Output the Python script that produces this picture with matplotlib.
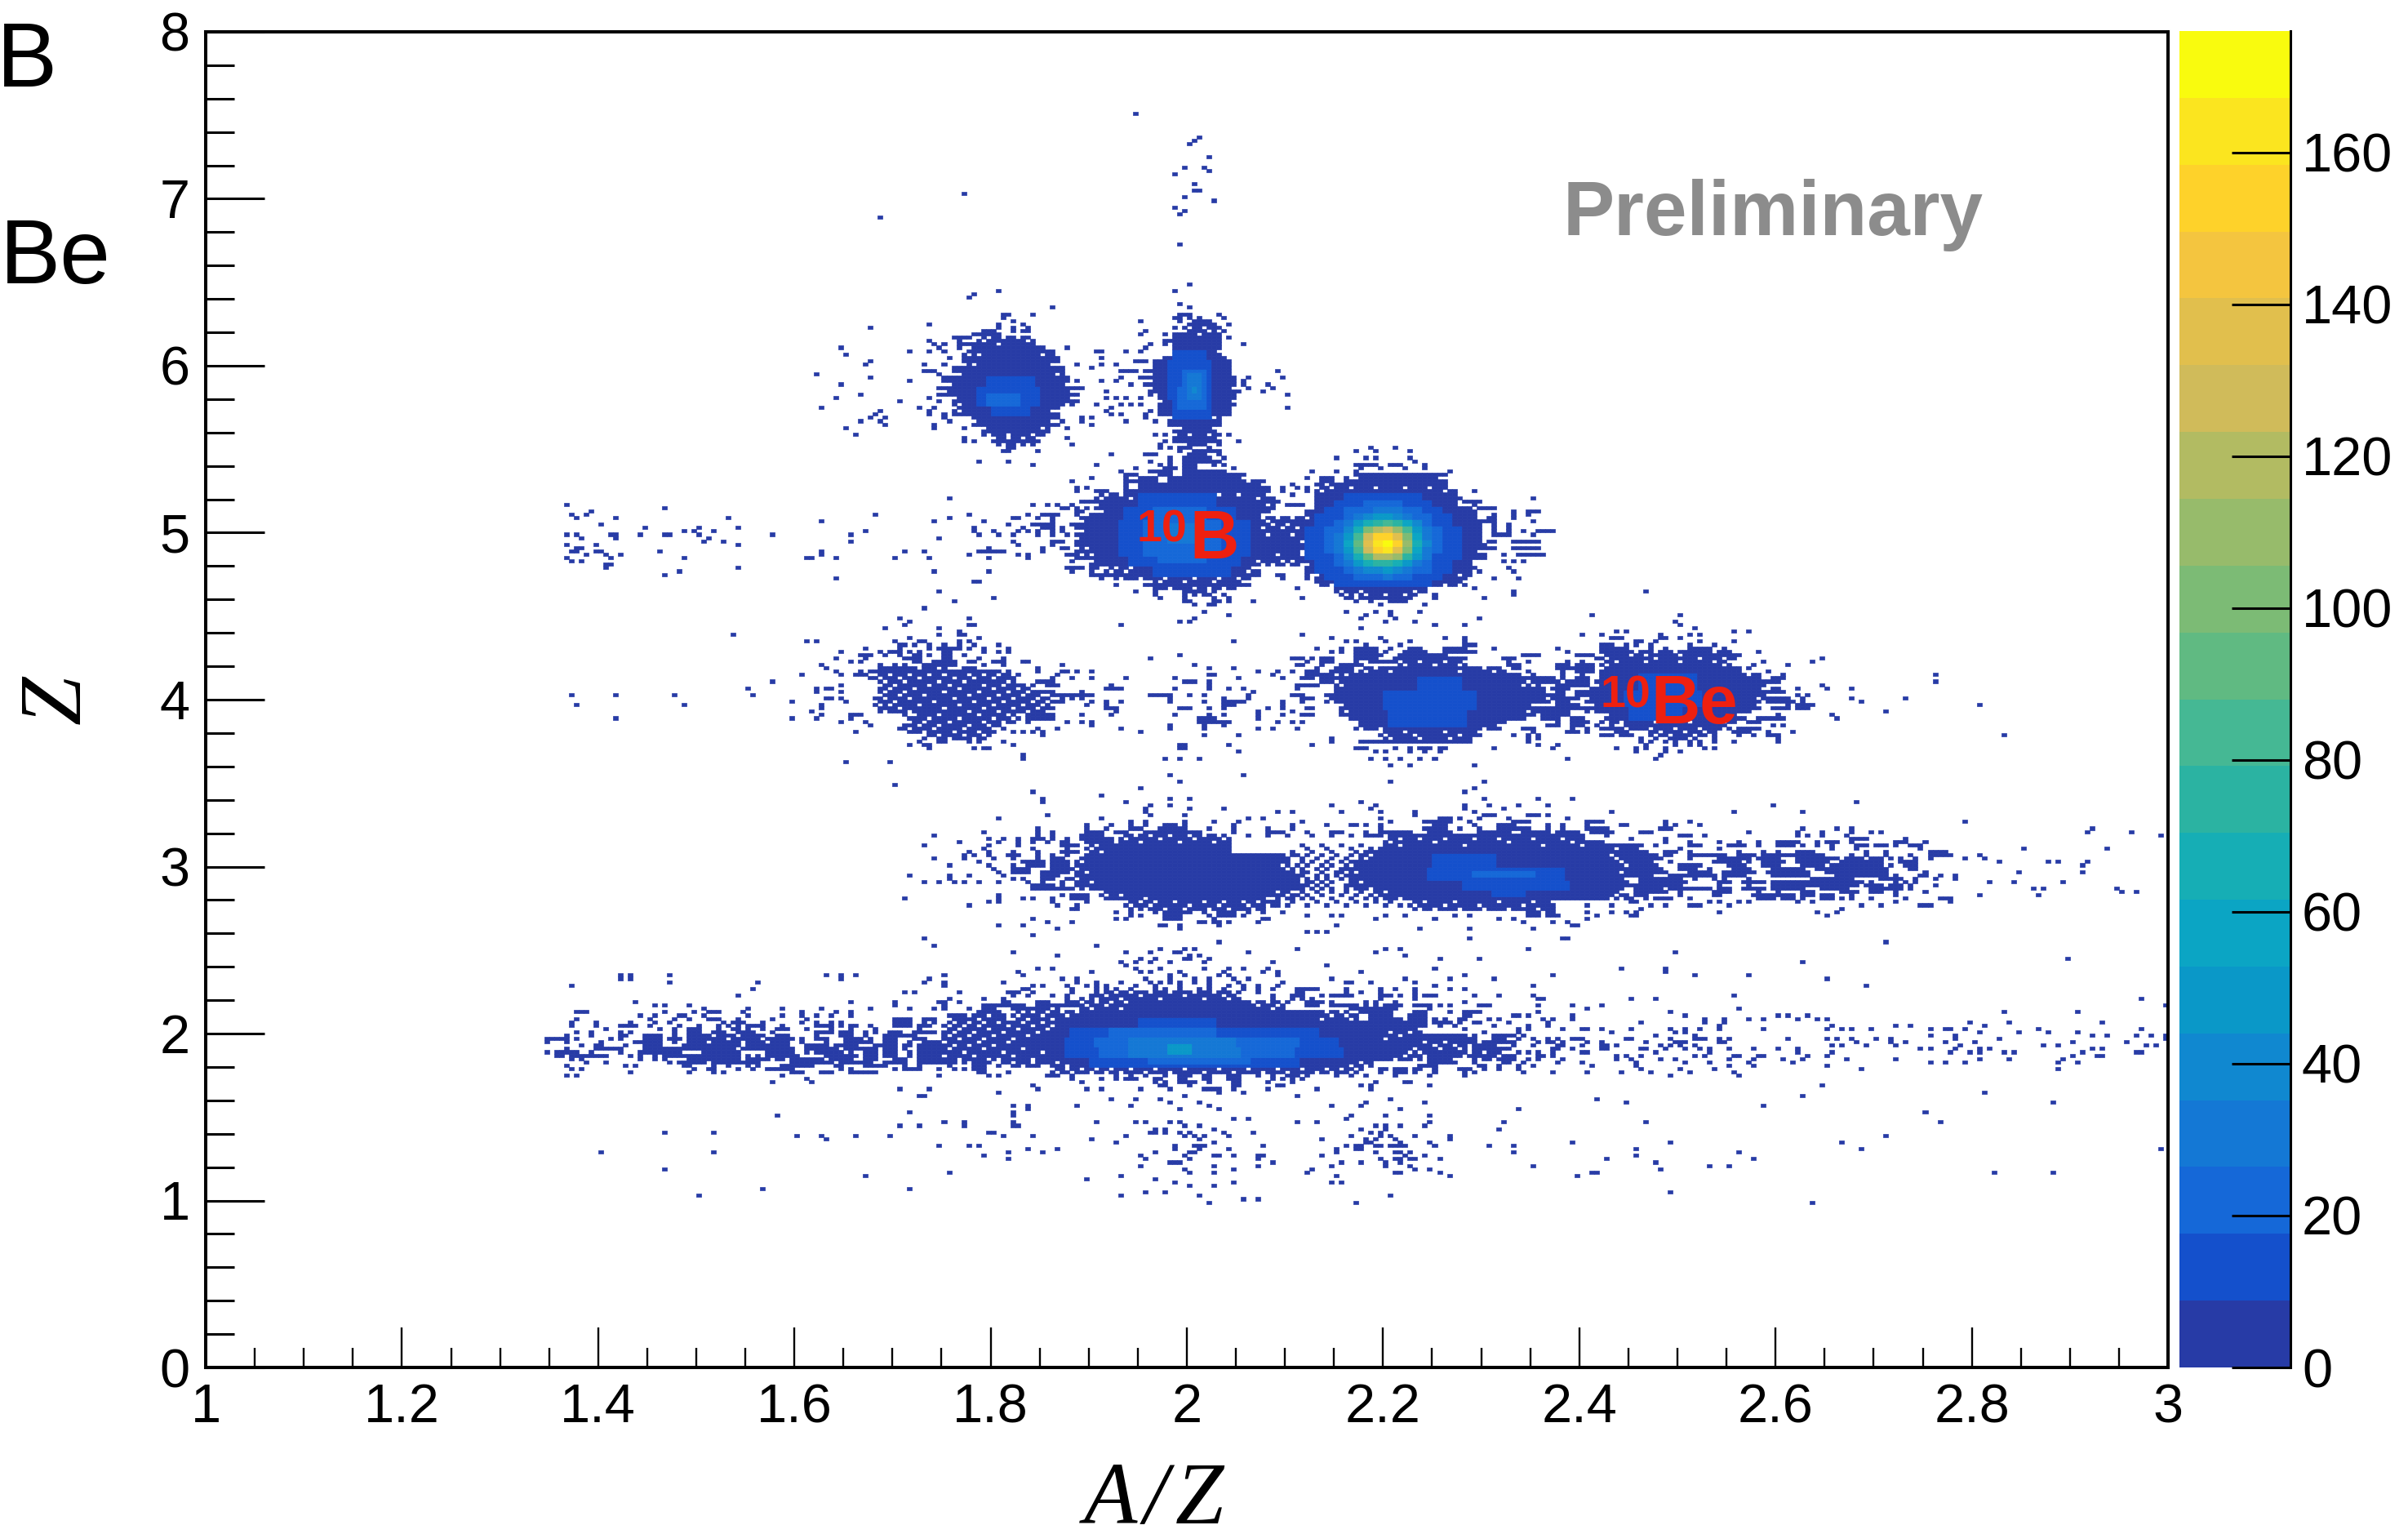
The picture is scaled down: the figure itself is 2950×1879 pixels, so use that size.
import matplotlib
matplotlib.use('Agg')
import matplotlib.pyplot as plt
import numpy as np
from matplotlib.colors import ListedColormap, BoundaryNorm

W, H = 2950, 1879
NX, NY = 400, 400   # bins 0.005 in A/Z, 0.02 in Z, everything below is in bin numbers

x_ticks = [1, 1.2, 1.4, 1.6, 1.8, 2, 2.2, 2.4, 2.6, 2.8, 3]
x_labels = ['1', '1.2', '1.4', '1.6', '1.8', '2', '2.2', '2.4', '2.6', '2.8', '3']
y_ticks = [0, 1, 2, 3, 4, 5, 6, 7, 8]
z_ticks = [0, 20, 40, 60, 80, 100, 120, 140, 160]
z_max = 176

bird = ['#273ba6', '#1450cc', '#1568d8', '#1478d5', '#1088d0', '#0a98c8', '#0ba5c4', '#16aeb5',
        '#2bb3a2', '#45b894', '#60ba82', '#7cbb75', '#97bb6b', '#b2bb62', '#d0bb5a', '#e1bf4d',
        '#f4c53f', '#fed22a', '#fbe51f', '#f9fb0e']

# solid parts of the blobs: (iy0, iy1, ix0, ix1)
c6_body = [(306,308,157,167),(303,305,155,172),(300,302,154,173),(297,299,152,174),(294,296,150,175),
           (291,293,149,177),(288,290,152,177),(285,287,153,173),(282,284,156,173),(279,281,158,171),(276,278,160,169)]
o6_body = [(309,311,199,205),(306,308,197,206),(303,305,197,206),(300,302,193,208),(297,299,193,208),(294,296,191,209),
           (291,293,192,210),(288,290,194,209),(285,287,194,208),(282,284,196,206),(279,281,197,205)]
b5_body = [(256,261,181,217),(252,255,178,216),(252,254,214,224),(245,251,177,224),(240,244,177,224),(236,239,183,214),(233,235,192,211),
           (258,263,226,254),(254,257,224,258),(248,253,223,259),(242,247,223,260),(238,241,224,257),(234,237,226,255),(231,233,230,248)]
be4_body = [(213,214,291,302),(210,212,284,310),(207,209,284,313),(204,206,283,318),(200,203,281,317),(196,199,281,316),
            (193,195,285,313),(191,192,288,310),(189,190,293,308),
            (210,211,243,256),(208,209,235,264),(203,207,230,269),(199,202,228,274),(194,198,231,270),(191,193,234,264),(188,190,239,259)]
left4_body = [(205,207,135,165),(202,204,136,168),(199,201,136,171),(196,198,136,171),(193,195,142,165),(190,192,140,162),(188,189,145,160)]
li3_body = [(157,159,186,208),(154,156,179,208),(152,153,177,223),(149,151,176,222),(146,148,176,225),(143,145,176,230),
            (140,142,182,222),(137,139,187,217),
            (156,158,240,281),(152,155,236,287),(146,151,232,289),(143,145,232,290),(140,142,237,288),(137,139,245,275)]
he2_body = [(110,112,182,210),(107,109,178,219),(104,106,164,234),(101,103,150,237),(98,100,150,246),(95,97,150,257),
            (92,94,150,248),(90,91,160,238),(88,89,172,236)]

# lighter inner parts: (iy0, iy1, ix0, ix1, count)
inner = [(294,296,159,168,12),(291,293,157,169,12),(288,290,157,169,12),(285,287,160,167,12),(288,291,159,165,20),
         (302,304,197,203,12),(296,301,196,204,12),(290,295,196,204,12),(284,289,197,204,12),(294,298,199,203,20),
         (287,293,198,203,20),(290,297,200,202,32),(292,293,201,201,42),
         (258,261,190,205,12),(254,257,187,209,12),(243,253,186,212,12),(240,242,188,210,12),(237,239,193,208,12),
         (254,257,193,203,20),(248,253,191,206,20),(243,247,191,206,20),(241,242,194,203,20),(247,252,196,201,33),
         (203,207,292,303,12),(198,202,289,304,12),(194,197,290,300,12),
         (203,206,247,255,12),(197,202,240,258,12),(192,196,241,256,12),
         (150,153,250,262,12),(146,149,249,276,12),(143,145,256,277,12),(141,142,262,268,12),(147,148,258,270,20),
         (102,104,190,205,12),(99,101,176,226,12),(96,98,175,230,12),(93,95,175,231,12),(90,92,180,222,12),
         (99,101,184,205,20),(96,98,181,222,20),(93,95,182,221,20),(91,92,192,212,20),
         (96,98,188,209,30),(93,95,188,210,30),(94,96,196,200,45)]

# hottest blob, 2x2 bin cells, counts
hot_ix = [224,226,228,230,232,234,236,238,240,242,244,246,248,250,252,254]
hot_iy = [260,258,256,254,252,250,248,246,244,242,240,238,236,234]
hot_counts = [
    [1,1,1,1,9,10,12,12,14,12,10,9,1,1,1,1],
    [1,1,1,9,12,16,18,20,22,20,16,12,9,1,1,1],
    [1,1,9,14,18,22,26,28,30,28,24,18,14,9,1,1],
    [1,9,12,16,24,30,38,44,46,42,34,26,18,12,9,1],
    [1,10,14,20,30,46,64,76,82,72,54,36,22,14,10,1],
    [9,12,18,26,42,68,98,118,124,110,80,50,30,18,12,9],
    [9,14,20,30,50,86,126,150,156,138,100,60,34,20,12,9],
    [9,14,20,32,54,92,134,162,176,150,108,64,36,20,14,9],
    [9,14,18,30,50,86,124,150,166,138,98,58,34,18,12,9],
    [9,12,16,26,40,66,96,116,120,106,76,48,28,16,12,9],
    [1,10,14,20,30,44,62,74,78,70,52,34,22,14,10,1],
    [1,9,12,16,22,30,38,42,44,40,32,24,18,12,9,1],
    [1,1,9,12,16,20,24,26,28,26,22,16,12,9,1,1],
    [1,1,1,9,10,12,14,16,16,14,12,10,9,1,1,1]]

# white specks and ragged edges inside the solid parts, (iy, [ix])
holes = [(207,[135,136,139,143,147,150,155,158,161,164]),(206,[137,141,145,152,156,160,165]),(205,[135,136,138,142,149,154,163,165]),
    (204,[136,137,140,147,151,158,162,167]),(203,[136,139,144,153,160,165,168]),(202,[136,138,142,150,157,163,167]),
    (201,[136,137,141,146,155,161,166,170,171]),(200,[138,143,152,159,164,169]),(199,[136,140,148,156,162,168,171]),
    (198,[137,139,145,153,160,166,170]),(197,[136,141,150,158,164,169]),(196,[136,138,143,155,161,167,171]),
    (195,[143,144,149,157,163,165]),(194,[142,147,153,160,164]),(193,[142,143,146,151,158,162,165]),(192,[140,141,145,149,155,159,162]),
    (191,[140,143,148,154,160,161]),(190,[140,141,142,146,152,157,161,162]),(189,[145,146,149,154,158,160]),(188,[145,147,148,151,156,159,160]),
    (159,[186,189,192,196,200,203,206,208,240]),(158,[187,194,201,207,240,243,247,252,258,263,270,276,281]),(157,[190,198,205,241,250,265,278]),
    (156,[179,181,243,256,272,280]),(155,[180,236,238,287]),(154,[179,182]),(153,[177,178,220,223,237,286]),(152,[177,221,222,236,287]),
    (151,[176,178,221,222,232,288]),(150,[176,219,221,233,289]),(149,[177,220,222]),(148,[176,179,222,225,232,234,288]),(147,[176,224,225]),
    (146,[177,223,225,232,289]),(145,[176,180,223,226,228,230,232,235,290]),(144,[176,225,227,229,230]),(143,[177,179,224,226,228,230,233,237,289,290]),
    (142,[182,218,221,222,237,240,288]),(141,[183,186,220,238,287]),(140,[182,191,216,217,219,222,237,239,243,286,288]),
    (139,[187,190,193,197,203,207,211,214,245,248,254,263,270,274,275]),(138,[188,192,200,206,212,216,246,252,259,268,275]),
    (137,[187,189,191,195,199,204,208,213,216,217,245,247,250,255,260,265,271,275]),
    (112,[182,185,188,192,196,201,205,209]),(111,[183,190,199,207,210]),(110,[186,194,203,208]),(109,[178,181,184,187,213,216,219]),
    (108,[179,183,214,218]),(107,[180,186,217]),(106,[164,166,168,171,174,177,228,231,233,234]),(105,[165,170,175,229,232]),(104,[164,167,172,227,233]),
    (103,[150,152,155,158,161,166,170]),(102,[151,154,157,163,168,172]),(101,[150,153,159,165,171]),(100,[152,156,162,169,241,245]),
    (99,[151,155,160,167,243]),(98,[153,158,164,240]),(97,[150,157,163,248,252]),(96,[152,155,160,250,254,257]),(95,[151,158,166,246,251,255,257]),
    (94,[154,162,170,245,247]),(93,[150,156,164,244,248]),(92,[153,159,161,168,242,246,248]),(91,[160,161,164,168,173,235,238]),
    (90,[160,162,163,166,170,171,175,233,236,238]),(89,[172,175,178,181,184,188,193,199,206,212,218,223,228,231,234,236]),
    (88,[173,176,180,183,186,191,196,203,209,215,220,226,229,233,235,236]),
    (308,[157,159,162,165]),(307,[158,167]),(306,[161]),(305,[155,171,172]),(303,[155,157,170]),(300,[154,156,172,173]),(297,[152,153,173]),
    (294,[150,151,175]),(292,[149,150,176,177]),(290,[152,177,176]),(288,[153,175,177]),(286,[153,172,173]),(283,[156,172,173]),
    (281,[158,170,197,198,205]),(279,[159,163,168,171,197,200,204]),(278,[160,163,166,169]),(276,[160,162,165,167,169]),
    (311,[200,203]),(310,[199,204]),(309,[202]),(304,[197,206]),(302,[193,194,208]),(295,[191,192]),(293,[192,209,210]),(291,[193,210]),
    (289,[194,209]),(284,[196,205]),
    (261,[181,183,186,190,195,200,206,210,216,217]),(260,[182,188,197,214]),(258,[181,192,216]),(256,[181,182,217]),(255,[178,179,215,216]),
    (253,[178,216]),(250,[177,178]),(248,[177]),(245,[177,179]),(243,[178,180,218,223]),(241,[177,178,179,180,214,219,221]),(240,[177,178,179,215,217,220,223,224]),
    (239,[183,185,188,213,214]),(238,[184,187,212]),(236,[183,184,186,190,195,201,206,210,213,214]),(235,[192,194,199,205,211]),
    (233,[192,196,201,204,207,210,211]),(254,[215,218,221,224]),(252,[217,220]),(251,[215,219,222]),(249,[216,221]),
    (263,[226,229,233,238,244,249,253,254]),(262,[227,252]),(257,[224,225,258]),(247,[223,260]),(244,[223,260,259]),
    (237,[226,255]),(234,[226,229,233,240,248,252,255]),(232,[231,235,246]),(231,[230,232,234,236,240,244,247,248]),
    (214,[291,295,299]),(213,[293,300]),(212,[285,295,304,309]),(211,[284,287,293,300,307,310,243,247,252,256]),(210,[244,250,255,285,309]),
    (209,[284,313,235,238,260,264]),(208,[236,241,255,262,313]),
    (206,[283,317,318]),(203,[281,317]),(198,[281,282,316,231,270]),(196,[282,315,316,232,269]),(195,[285,312,313]),(194,[231,232,269,270]),
    (193,[285,288,295,302,309,312,313,234]),(192,[288,310,234,263,264]),(191,[289,294,299,304,309,235,239,260,264]),
    (190,[293,296,301,305,308,239,244,252,259])]
holes2 = [(207,[230,232,268,269]),(205,[230,269]),(204,[231,268,283,318]),(202,[228,229,273,274]),(200,[228,273,281,316]),(199,[229,274]),
    (189,[240,246,255,293,295,298,303,306,308]),(188,[239,241,247,253,258,259])]

# loose cells, (iy, [ix or (ix0, ix1)])
top_cells = [(375,[189]),(368,[202]),(367,[201]),(366,[200]),(362,[204]),(359,[199,203]),(358,[204]),(357,[197]),(354,[201]),
    (352,[201,202]),(351,[154]),(350,[199]),(349,[205]),(347,[197]),(346,[199]),(345,[198]),(344,[137]),(336,[198]),(324,[200]),
    (322,[197,161]),(321,[156]),(320,[155]),(318,[198]),(317,[200,172]),(315,[168,(162,163),(198,200),206]),(314,[162,(197,198),200,202,207]),
    (313,[164,190,198,(201,204)]),(312,[147,161,166,(200,205),208]),(311,[135,161,164,167,197,(206,206)]),
    (310,[164,166,167,(158,160),191,207]),(309,[(156,161),190,195,197,198,206]),(308,[(152,154),155,(163,167),208]),
    (307,[147,153,(160,168),(195,196)]),(306,[148,150,(153,155),156,168,192,195,211]),(305,[129,149,153,175,191]),
    (304,[143,147,150,181,182,187,190]),(303,[130,154]),(302,[151,182]),(301,[135,(189,191)]),(300,[134,146,150,177,182,185]),
    (299,[152,174,180]),(298,[(146,148),(186,189),(191,192),218]),(297,[124,149]),(296,[135,186,190,212,219]),
    (295,[143,177,182,185,211]),(294,[129,188,216,211]),(293,[178,212,217]),(292,[215,183]),(291,[133,220]),
    (290,[128,147,183,185,187,190]),(289,[141,149]),(288,[181,186,188,190]),(287,[125,145,148,184,220]),(286,[137,147,152,183,192]),
    (285,[136,147,150,152,184,186,191]),(284,[135,138,150,178,180,191]),(283,[133,137,151,174,178,187,193]),(282,[138,148,180]),
    (281,[130,148,154,175]),(279,[132,193,195,206,208]),(278,[154,175,(197,205)]),(277,[154,156,(160,164),195,(197,206),210]),
    (276,[164,176,194,(200,203),206]),(275,[163,164,194,196,(198,200),204,237,242]),(274,[162,163,169,198,(201,206),234,238,245]),
    (273,[184,192,(191,193),(200,203),206]),(272,[196,(199,204),207,230,236,238,245]),(271,[157,163,192,196,(199,206),246]),
    (270,[168,181,194,207,196,(199,201),205,(234,238),(241,243),248]),(269,[189,195,209,(195,197),(199,201),235,239,244,248]),
    (268,[186,(192,196),(199,207),225,230,234,253]),(267,[(187,189),(194,196),(199,211),(234,252)]),
    (266,[180,187,(190,193),(196,210),224,(227,229),232,(235,250)]),(265,[176,(187,193),(196,211),(213,215),(227,229),(232,252)]),
    (264,[187,(190,214),221,226,227,(229,252)]),(263,[177,179,187,(190,216),219,222,224])]
b5_cells = [(262,[177,(181,183),(187,216),219,224,258]),(261,[221]),(260,[255,270]),(259,[(178,180),218,(256,259)]),
    (258,[168,171,173,176,(220,223),258]),(257,[(174,175),(259,262)]),(256,[(177,178),266,(269,271)]),(255,[(170,173),262,266,269]),
    (254,[169,172,(261,262),266,151]),(253,[(260,262),270]),(252,[(168,172),262,265]),(251,[166,(170,172),174,262,265]),
    (250,[167,169,172,174,262,265,268,(271,274)]),(249,[172,175,(262,265),270]),(247,[(172,174),(261,262),(266,271)]),
    (245,[170,(174,175),(261,262),(266,271)]),(243,[167,(175,176),264,(267,272)]),(241,[176,264,266,268]),
    (239,[175,(176,178),180,181,(258,258),265]),(238,[176,180,184,259,266]),(237,[(180,182),186,188,214,218,219,224,256,257]),
    (236,[182,186,(188,190),(212,214),219,224,256,262,267]),(234,[185,(191,191),(212,212),227,(256,256)]),
    (233,[222,258]),(232,[189,193,(199,202),203,205,266]),(231,[193,199,201,203,204,207,250]),
    (230,[194,199,205,208,223,(232,233),(235,245),260,250]),(229,[213,199,200,205,206,208,234,237,(241,244)]),
    (228,[201,204,205,239,248]),(226,[203,232,238,241,247]),(225,[208,236,241]),(224,[201,235,242,259]),(223,[198,200,240,246]),
    (222,[186,250,256]),(221,[235])]
left5_cells = [(265,[176]),(263,[177,179]),(262,[177]),(260,[151]),(258,[73,168,171,173,176]),(257,[93,174,177,179]),(256,[78,177]),
    (255,[74,77,136,155,(170,172),167,177]),(254,[75,83,106,164,165,169]),(253,[125,148,158,172,178]),(252,[80,168,169,176,177,163]),
    (251,[89,100,108,156,170,171,166]),(250,[97,99,103,134,156,160,165,167,174]),(249,[73,75,82,83,88,93,94,100,115,131,157,161,164,169,172]),
    (248,[76,83,102,149]),(247,[101,105,131,164]),(246,[73,79,108,165,172]),(245,[75,76,159]),(244,[74,75,79,80,92,125,142,146,(157,162),170]),
    (243,[77,81,84,125,155,165]),(242,[73,82,97,122,123,128,140,147,159,167]),(241,[74,76]),(240,[81,82]),(239,[81,108]),(238,[96,148,159]),
    (237,[93]),(236,[128]),(235,[156,157])]
z4_cells = [(232,[149]),(230,[160]),(229,[152]),(227,[146]),(224,[141,155]),(223,[143]),(222,[142,155,156]),(221,[138,149]),(220,[153]),
    (219,[107,149,153,154,223]),(218,[143,157,229,239,252,256]),(217,[122,124,140,145,146,153,155,209,232,234,240,245,256]),
    (216,[141,142,144,147,150,153,156,161,236,243,(256,258)]),(215,[134,141,147,(149,153),155,158,163,226,231,(234,238),241,(245,247),(252,256),262]),
    (214,[129,137,(139,141),143,145,150,151,158,161,163,229,231,(234,238),240,(244,248),(252,258)]),
    (213,[133,134,135,138,141,144,145,147,150,151,154,198,(234,238),239,(243,252),(268,271)]),
    (212,[128,134,(142,145),150,151,157,162,192,(221,223),225,(227,229),(234,238),(242,256),(264,266)]),
    (211,[131,133,144,145,(148,152),155,156,(160,162),166,167,224,(227,229),234,(237,242),265]),
    (210,[125,137,140,142,(146,152),158,162,174,201,222,223,227,(231,235),(265,267)]),
    (209,[126,(137,139),(140,142),143,144,(146,148),150,(154,156),169,204,209,226,(230,233)]),
    (208,[128,133,(135,139),(140,145),(146,157),(158,160),161,163,169,174,177,214,218,221,(224,226),(229,233),175,180]),
    (207,[121,129,132,(133,134),173,204,205,217,(224,227),(228,229),(270,270)]),(206,[172,176,180,187,197,210,219,(223,225),(227,229),(270,271)]),
    (205,[115,(169,172),(199,201),204,(227,229),(270,272)]),(204,[129,(171,173),184,204,(222,225),226]),(203,[110,124,126,127,(183,185),186,197,204,208,211,222]),
    (202,[124,129,(166,172),178,213]),(201,[74,83,95,111,(172,176),178,179,(174,180),(192,196),200,203,212,(221,223)]),
    (200,[126,127,129,176,174,178,196,207,212,(223,225)]),(199,[119,130,(172,174),180,183,186,196,203,(207,210),211,219,223]),
    (198,[75,97,125,179,183,(207,209),219]),(197,[125,(172,172),(183,185),(198,200),204,207,216,219,224,225]),(196,[123,185,214,221]),
    (195,[125,(131,133),(167,172),178,184,197,204,207,214,219,(223,225)]),(194,[83,119,124,131,(167,172),(202,205),214]),
    (193,[129,134,167,175,178,180,(202,208),218,221,223]),(192,[135,180,196,203,207]),(191,[173,169,186,196,203,214,217,222]),
    (190,[132,164,166,168,190,170]),(189,[170,203,210,269,271]),(188,[229]),(187,[145,149,150,155,157,162,229,(235,237),(238,257)]),
    (186,[143,146,147,164,198,199,208,225]),(185,[147,156,158,159,198,199,234,235,236,242,245,247,248,249,251,252,262]),
    (184,[238,240,245,248,251,210]),(183,[166]),(182,[237,240,243,247,250,195,198,202,166]),(181,[130,139]),(180,[241,245,258]),
    (174,[140]),(172,[168]),(170,[170])]
be4_cells = [(232,[293]),(231,[266]),(225,[282,300]),(223,[299]),(222,[300]),(221,[303]),(220,[287,289,311,314]),(219,[280,284,296,302,304]),
    (218,[(286,288),296,297,300]),(217,[291,292,295,304,311]),(216,[(284,286),289,291,294,302,307]),(215,[275,(284,289),294,297,(302,306),309]),
    (214,[277,(284,290),(303,306),(308,310),316]),(213,[(268,271),(279,281),282,(285,289),(303,312)]),(212,[283,311,329]),
    (211,[269,277,280,317,327]),(210,[266,(275,277),(279,282),315,322]),(209,[266,267,(275,277),(278,282),314]),(208,[269,276,(279,282),318]),
    (207,[(266,269),276,280,315,316,321,352]),(206,[(270,271),(272,274),276,(279,281),(319,321)]),(205,[(270,271),(273,275),(277,281),(319,320),352]),
    (204,[329,271,(275,281)]),(203,[324,330,335,(270,272),(274,277),(319,320)]),(202,[(275,276),(279,280),(318,321)]),
    (201,[324,326,(274,276),(279,280)]),(200,[325,335,346,(318,322),(275,279)]),(199,[325,337,(275,277),(318,323)]),
    (198,[322,(324,327),361,(275,279)]),(197,[(319,322),(324,326),(271,280)]),(196,[342,(271,277)]),(195,[320,331,(272,277)]),
    (194,[332,(316,321),(272,275),(278,280)]),(193,[275,(278,280),281,284,(314,316)]),(192,[(273,275),(278,280),283,286,319,321]),
    (191,[(268,270),278,281,(284,287),(312,316)]),(190,[270,(277,279),281,(287,289),(311,314),318,323]),
    (189,[266,(284,286),(288,290),312,315,(318,320),366]),(188,[269,271,292,295,(298,301),303,307,320]),(187,[269,292,294,297,299,302,304,307,311,320]),
    (186,[271,275,293,299,302,304]),(185,[274,287,291,293,297,305,307]),(184,[291,297,300]),(183,[296]),(182,[277,295])]
li3_cells = [(177,[196,211]),(175,[198,241,260]),(173,[190,258]),(172,[168,256]),(171,[182]),(170,[196,200,260,271,278]),
    (169,[170,187,235,336]),(168,[192,196,229,238,256,261,267,273,319]),(167,[191,200,207,237,256,264]),
    (166,[191,218,221,231,239,246,258,286,311,325]),(165,[171,192,199,246,(260,262),(269,271),273]),
    (164,[161,182,212,215,239,(251,253),255,259,265,277]),(163,[188,191,199,205,210,223,241,(248,253),257,(266,269),(281,283),284,297,302,358]),
    (162,[179,184,188,191,(195,197),199,209,221,228,233,234,236,239,(250,252),258,(263,266),273,276,281,(288,289),297,299,304]),
    (161,[169,179,183,(188,190),(194,199),204,209,216,221,239,(248,252),255,259,(263,269),273,276,(281,285),(296,298),325,332,335,384]),
    (160,[158,169,172,(179,182),(185,187),(191,202),209,(216,219),224,(229,231),236,(239,245),(249,253),(259,265),(268,273),(275,279),(282,286),(292,294),314,324,329,335,339,341,383,392]),
    (159,[148,169,172,(178,182),212,216,220,225,229,233,(236,239),(241,245),(246,275),(276,280),285,(300,302),305,324,326,329,334,398]),
    (158,[159,162,165,(168,170),172,175,(178,184),290,297,(335,338),346]),(157,[153,161,165,168,171,174,175,(179,184),(282,284),297,302,308,312,316,(320,324),328,(330,332),335,(344,346),350]),
    (156,[146,159,165,(174,177),(282,292),295,(302,304),(310,313),316,(320,323),325,328,331,(336,338),(340,342),344,(347,349),223,227,231,235]),
    (155,[158,168,175,(288,291),300,308,331,336,349,370,387,224,228,233]),(154,[155,159,164,169,(174,177),(288,293),(297,299),302,312,317,320,(324,327),338,342,(351,354),221,225,229,234]),
    (153,[154,156,159,163,164,165,169,172,175,(288,295),(297,298),(302,305),(306,309),(312,315),(317,322),(323,329),335,338,342,347,(351,355),361,224,227,230,233,235]),
    (152,[148,154,160,164,169,(172,174),(288,296),302,(308,311),(312,314),(316,320),(324,332),(334,337),(339,341),343,345,348,351,358,362,226,229,232,235]),
    (151,[157,(166,170),(172,175),(290,294),298,(307,312),314,(317,321),(324,330),(333,341),(345,348),365,375,377,383,223,225,228,231]),
    (150,[151,159,164,(167,170),(172,175),(290,295),(300,303),304,(310,313),(317,320),(325,329),(331,341),343,(346,348),382,224,227,229]),
    (149,[160,(164,167),(172,175),(290,296),(300,303),306,(311,314),(319,325),(328,342),347,348,223,226,228,231]),
    (148,[161,(164,167),(170,175),(290,296),297,(302,306),(309,315),(318,326),(330,341),342,350,369,382,227,230,231]),
    (147,[143,151,155,162,(170,173),(290,294),(298,302),(303,307),(309,313),(319,326),(332,342),344,349,350,353,356,226,228,230]),
    (146,[151,164,166,170,171,172,175,(292,296),(297,300),303,307,309,314,(327,335),(341,345),348,352,356,226,228,231]),
    (145,[146,149,152,154,157,161,167,170,174,(292,301),(308,310),(313,317),(319,330),(331,337),339,344,346,348,363,368,378]),
    (144,[(168,172),174,(291,296),(297,300),308,314,(319,336),(338,341),(343,345),347,352]),
    (143,[(168,172),(173,175),(291,296),(298,301),(302,306),(308,310),(313,317),(319,325),(329,334),(339,341),(342,345),347,372,374,389]),
    (142,[(291,297),300,(307,310),316,320,(325,327),(333,336),(339,341),344,350,390,393,223,226,229,232,235]),
    (141,[161,174,(176,179),289,(291,293),300,307,308,(315,320),(321,323),(325,327),(329,331),335,344,361,373,224,227,231,234]),
    (140,[142,161,166,168,172,(176,179),(289,290),293,(295,298),302,(316,319),(321,323),325,(329,331),333,335,339,346,(353,355),223,225,229,233,236]),
    (139,[159,161,172,179,290,291,355,344,306,308,312,314,324,327,218,221,226,230,234,238,241]),(138,[155,173,177,281,286,294,297,302,303,304,310,337,341,(349,351),218,220,224,228,232,236,240,243]),
    (137,[176,177,271,292,333]),(136,[185,188,193,(195,200),203,(206,209),212,215,219,(269,271),273,274,281,286,289,291,308,328,332]),
    (135,[188,190,(195,198),204,(206,209),211,224,229,231,240,244,254,257,(269,271),(273,275),283,290,291,330]),
    (134,[168,185,187,(195,198),205,215,216,238,250,263,266,281]),(133,[171,176,202,203,205,206,208,214,268,274,277]),
    (132,[161,166,194,195,198,206,230,278,279]),(131,[173,198,247,257,270]),(130,[224,226,228]),(129,[168]),(128,[146,257,276,277]),(127,[206,342])]
he2_upper = [(127,[206]),(126,[181,148]),(125,[194,199,201,222,240,243,269]),(124,[164,187,192,197,198,212,238]),(123,[173,200,202,244]),
    (122,[190,193,199,200,204,251,259]),(121,[186,189,192,196,203,217]),(120,[187,228]),(119,[169,172,189,194,203,208,211,216,250]),
    (118,[165,180,190,192,198,207,215,218,235]),(117,[150,166,196,199,206,208,218,256]),(116,[174,177,191,196,201,204,209,212,229,244,253,262]),
    (115,[162,177,181,186,192,194,196,198,201,204,210,219,232,233,237,246]),(114,[150,168,170,175,179,181,183,189,193,198,204,208,211,214,218,250]),
    (113,[166,167,176,181,183,185,188,193,195,198,202,204,207,211,214,217,(222,226),232,239,242,246,253,256]),
    (112,[153,(163,165),168,176,181,214,222,223,232,235,239,246]),
    (111,[164,167,172,175,180,181,217,(221,223),227,(229,233),(239,241),243,246,(248,250),258,263]),
    (110,[151,158,162,175,178,180,217,221,223,225,239,246]),(109,[150,153,162,163,(169,171),(175,177),220,(224,227),229,236,238,242,256]),
    (108,[150,(158,166),(169,177),(224,226),(229,234),236,238,(240,243),(246,249),251,253,(259,261)]),
    (107,[150,155,(158,160),(164,171),173,(233,237),(238,242),249]),(106,[(157,161),(235,241),(246,248),253,256,257,259]),
    (105,[(151,154),(156,158),(160,162),(237,241),(245,248),256,257]),(104,[(152,156),158,159,(160,162),(237,243),(245,248),250,252,255,256,261,263]),
    (103,[(238,248),(250,253),255,259,265]),(102,[(238,248),251,254,262]),(101,[(238,246),256]),(100,[247,260])]
he2_right = [(99,[(247,256),258,(262,266)]),(98,[(247,257),(262,264)]),(97,[258,(260,266)]),(96,[(258,262)]),(95,[(258,262),264]),
    (94,[(249,256),(261,263)]),(93,[(249,255),257,(260,262)]),(92,[(249,253),(264,266)]),(91,[(249,253),254,265]),(90,[(247,249),250,260,263]),
    (89,[239,240,(242,244),246,247,250,(255,257)]),(88,[239,(242,244),246,250,256]),
    (87,[230,233,236,242,249,256,159,161,(171,173),176,185,188,191,195,(198,200),203,204,(208,210),214,217,(220,222),224]),
    (86,[176,182,185,(187,189),193,194,198,199,203,204,(208,210),217,219,221,223]),(85,[178,193,195,(198,201),204,209,210,216,221,238,244,245]),
    (84,[168,194,195,200,209,210,218,219,235,237,249]),(83,[169,179,182,190,196,(203,206),209,216,226,237])]
he2_below = [(82,[161,206,211]),(81,[199,222]),(80,[184,189,194,241]),(79,[196,202,236,248]),(78,[164,167,177,188,204,229,235]),(77,[167,198,206,243]),
    (75,[164,233,240,249]),(74,[209,212,232]),(73,[150,181,189,191,196,198,222,226,249,264]),(72,[154,164,165,199,202,238,240,243,248]),
    (71,[193,195,205,235,240,263]),(70,[159,160,192,193,195,198,200,207,213,237,239,93]),(69,[162,168,187,199,201,203,208,233,239,241,246,253,120,139]),
    (68,[180,202,227,236,238,242,253,126]),(67,[185,205,236,237,243,249]),(66,[149,155,157,197,201,202,203,215,232,234,235,238,239,241,242,243,244,250,261]),
    (65,[167,173,197,202,208,230,234,235]),(64,[163,170,193,200,201,230,238,242,243,245,80,103]),(63,[158,190,199,205,206,209,214,215,227,244,248]),
    (62,[163,191,200,214,239,242,243,245,246,251]),(61,[196,197,198,217,231,235,240,243]),(60,[190,205,214,229,240,245]),
    (59,[199,209,225,246,249,93]),(58,[151,200,205,224,242,243,251]),(57,[186,230,253,134]),(56,[179,193]),(55,[197,209,229,231]),(54,[200,205]),
    (53,[143,113]),(52,[191,195]),(51,[186,202,241,100]),(50,[211,214]),(49,[204,234])]
he2_left = [(117,[84,86,94,129,132,126]),(116,[86,147,129,84]),(115,[146,150,94,112]),(114,[74,150]),(113,[111]),(112,[142,144,153,163]),
    (111,[108]),(110,[151,158,162]),(109,[87,131,140,149,153]),(108,[91,93,98,159,140]),(107,[101,110,117,125,135,143,148,150,155]),
    (106,[(75,77),93,99,(102,104),109,121,128,131,159]),(105,[88,91,96,97,101,110,117,121,124,127,131,(151,153),157]),
    (104,[75,90,95,98,(102,104),108,115,122,(140,143),(146,148),(152,155),158,161]),
    (103,[74,79,86,91,94,105,(107,109),113,121,124,127,129,(140,143),146,148]),
    (102,[74,79,(84,86),87,90,96,100,104,106,108,(110,113),117,(124,127),129,131,132,135,(140,143),(145,147)]),
    (101,[81,92,95,(98,100),104,107,108,110,113,(116,118),122,127,131,136,145]),
    (100,[75,78,84,86,95,(98,100),(103,105),(108,111),115,(124,127),(129,131),134,136,(139,141),(144,148)]),
    (99,[73,78,84,85,(89,92),95,(98,100),101,102,(104,107),(109,113),(116,118),124,(129,131),134,(138,143),144]),
    (98,[(69,72),73,75,82,84,(89,92),(94,96),(98,100),(101,105),(107,112),(114,119),121,(124,126),(130,133),135,(138,140),(144,146)]),
    (97,[69,73,80,(87,89),(90,92),95,(98,101),(103,108),(110,113),(115,118),121,126,(130,134),135,(138,140),143,(146,149)]),
    (96,[76,79,80,85,(89,92),(97,101),(102,108),(110,118),(122,126),(128,132),(136,140),142,143,(145,149)]),
    (95,[73,(79,83),84,(89,92),(93,100),(101,107),(109,113),(114,119),(122,128),(130,133),134,135,136,(138,140),142,(145,149)]),
    (94,[69,(71,74),75,78,84,(88,96),(101,108),(114,119),122,(124,128),129,131,(134,136),(138,140),143,(145,149)]),
    (93,[71,72,(74,77),(78,80),81,86,88,91,(93,96),(97,102),(103,108),110,112,(114,120),(126,132),(134,136),(138,140),143,(145,149)]),
    (92,[74,76,88,91,93,(98,102),(103,108),(110,114),116,117,(119,125),(127,131),(134,136),(140,142),(145,149)]),
    (91,[77,81,94,(96,98),(99,101),(103,112),(119,127),(129,135),(138,142),(145,152),154,(156,159)]),
    (90,[73,85,87,97,98,103,106,110,112,(117,123),128,129,(134,138),142,145,151,(156,158)]),
    (89,[99,102,103,108,111,(114,119),129,131,140,(142,145),149,152,154,(156,158),74,76]),
    (88,[86,98,103,105,(119,121),(125,127),(131,133),(134,136),157,158,163]),(87,[73,75,117,149]),(86,[122]),(85,[115,123]),
    (83,[141,147]),(82,[161]),(81,[145,146]),(78,[164]),(76,[143,164]),(75,[116]),(73,[150,154,164]),(72,[141,145]),(70,[103]),
    (69,[125,132])]
he2_far = [(127,[342]),(125,[269]),(124,[299]),(122,[259,379]),(121,[325]),(119,[288,297]),(118,[297]),(117,[274,303,314]),(116,[262,330]),(114,[270,338]),
    (111,[258,263,270,311]),(110,[271,272,290,295,394]),(108,[259,260,271,278,284,399]),(107,[281,312]),(106,[258,271,298,366,381]),
    (105,[266,267,269,278,301,320,322,326]),(104,[261,263,272,274,278,305,309,314,317,324,328,330]),(103,[258,265,273,292,305,309,359,367,386]),
    (102,[262,269,273,308,331,344,347,362]),(101,[267,269,276,280,281,284,290,298,301,304,308,317,330,333,335,339,351,354,355,358,373,394]),
    (100,[260,267,286,299,301,361,369,375,381]),(99,[262,263,264,265,268,295,303,351,356,384,387,393,396,399]),
    (98,[258,262,263,267,270,273,275,278,279,280,289,290,298,303,304,305,308,310,322,330,332,335,340,343,356,365,399]),
    (97,[261,271,273,274,276,281,284,293,299,300,301,308,309,336,343,346,354,360,380,391]),
    (96,[260,261,266,270,275,276,280,284,285,287,296,298,300,303,331,333,338,344,357,374,377,395,397]),
    (95,[260,261,263,265,274,275,278,284,285,292,293,297,301,304,306,310,315,320,324,349,351,356,361,363,384,386]),
    (94,[258,259,263,267,269,271,274,280,281,295,306,324,331,355,359,361,366,368,382,393,394]),
    (93,[258,259,264,265,266,271,272,274,287,289,292,303,305,311,312,316,317,326,330,380,385,386]),
    (92,[258,260,261,263,264,266,269,271,276,287,290,296,299,310,315,321,325,334,344,361,367,378]),
    (91,[258,264,265,268,275,280,291,301,306,314,323,351,354,358,377,381]),(90,[259,267,270,282,291,310,315,330]),
    (89,[260,263,267,292,300,307,337,377]),(88,[258,268,274,281,288,294,302,311]),(87,[298,312]),(84,[329]),(82,[362]),(81,[325]),(80,[283]),
    (79,[289,376]),(78,[317]),(77,[267]),(76,[350]),(73,[264,293,353]),(71,[263]),(69,[342]),(67,[278,298,333]),(66,[261,266]),(65,[291,337,398]),
    (64,[266,312]),(63,[291]),(62,[285,315]),(61,[295]),(60,[270,306,310]),(59,[296]),(58,[282,283,364,376]),(57,[279]),(52,[298]),(49,[327])]

hist = np.zeros((NY, NX))
for body in [c6_body, o6_body, b5_body, be4_body, left4_body, li3_body, he2_body]:
    for iy0, iy1, ix0, ix1 in body:
        hist[iy0:iy1+1, ix0:ix1+1] = 1
for iy0, iy1, ix0, ix1, n in inner:
    hist[iy0:iy1+1, ix0:ix1+1] = n
for band in [top_cells, b5_cells, left5_cells, z4_cells, be4_cells, li3_cells, he2_upper, he2_right, he2_below, he2_left, he2_far]:
    for iy, items in band:
        for it in items:
            if isinstance(it, tuple):
                part = hist[iy, it[0]:it[1]+1]
                part[part == 0] = 1
            elif hist[iy, it] == 0:
                hist[iy, it] = 1
for iy, items in holes + holes2:
    for ix in items:
        if hist[iy, ix] == 1:
            hist[iy, ix] = 0
for j, iy in enumerate(hot_iy):
    for i, ix in enumerate(hot_ix):
        if hot_counts[j][i] > 1:
            hist[iy:iy+2, ix:ix+2] = hot_counts[j][i]

x_edges = np.linspace(1, 3, NX + 1)
y_edges = np.linspace(0, 8, NY + 1)
levels = np.linspace(0, z_max, 21)
cmap = ListedColormap(bird)
norm = BoundaryNorm(levels, cmap.N)

plt.rcParams['font.family'] = ['Liberation Sans', 'DejaVu Sans']

def box(x0, y0, x1, y1):
    return [x0 / W, 1 - y1 / H, (x1 - x0) / W, (y1 - y0) / H]

fig = plt.figure(figsize=(W / 100, H / 100), dpi=100)
ax = fig.add_axes(box(252, 39, 2656, 1675))
mesh = ax.pcolormesh(x_edges, y_edges, np.ma.masked_equal(hist, 0), cmap=cmap, norm=norm,
                     antialiased=True, edgecolors='face', linewidth=0.5)
ax.set_xlim(1, 3)
ax.set_ylim(0, 8)
ax.set_xticks(x_ticks)
ax.set_xticklabels(x_labels)
ax.set_yticks(y_ticks)
ax.set_xticks(np.arange(1, 3.001, 0.05), minor=True)
ax.set_yticks(np.arange(0, 8.001, 0.2), minor=True)
ax.tick_params(axis='x', which='major', direction='in', length=35, width=1.7, labelsize=48, pad=14)
ax.tick_params(axis='x', which='minor', direction='in', length=17, width=1.7)
ax.tick_params(axis='y', which='major', direction='in', length=52, width=2.2, labelsize=48, pad=14)
ax.tick_params(axis='y', which='minor', direction='in', length=25, width=2.2)
for s in ax.spines.values():
    s.set_linewidth(2.9)

cax = fig.add_axes(box(2670, 38, 2806, 1675))
cb = fig.colorbar(mesh, cax=cax, ticks=z_ticks, spacing='proportional')
cb.outline.set_visible(False)
cb.ax.minorticks_off()
cax.tick_params(axis='y', direction='in', length=52, width=2.2, labelsize=48, pad=10, right=True)
cax.axvline(1, color='black', lw=2.2, clip_on=False)

def label(x, y, s, **kw):
    fig.text(x / W, 1 - y / H, s, **kw)

label(-4, 106, 'B', fontsize=80, va='baseline', ha='left')
label(0, 347, 'Be', fontsize=80, va='baseline', ha='left')
label(1915, 288, 'Preliminary', fontsize=68, fontweight='bold', color='#8c8c8c', va='baseline', ha='left')
label(1393, 664, '10', fontsize=40, fontweight='bold', color='#ee2010', va='baseline', ha='left')
label(1457, 684, 'B', fontsize=60, fontweight='bold', color='#ee2010', va='baseline', ha='left')
label(1960, 866, '10', fontsize=40, fontweight='bold', color='#ee2010', va='baseline', ha='left')
label(2022, 886, 'Be', fontsize=60, fontweight='bold', color='#ee2010', va='baseline', ha='left')
label(1414, 1866, 'A\u200a/\u200aZ', fontsize=77, family=['Liberation Serif', 'DejaVu Serif'], style='italic', va='baseline', ha='center')
label(72, 857, 'Z', fontsize=77, family='Liberation Serif', style='italic', rotation=90, va='center', ha='center')

fig.savefig('out.png', dpi=100, facecolor='white')
